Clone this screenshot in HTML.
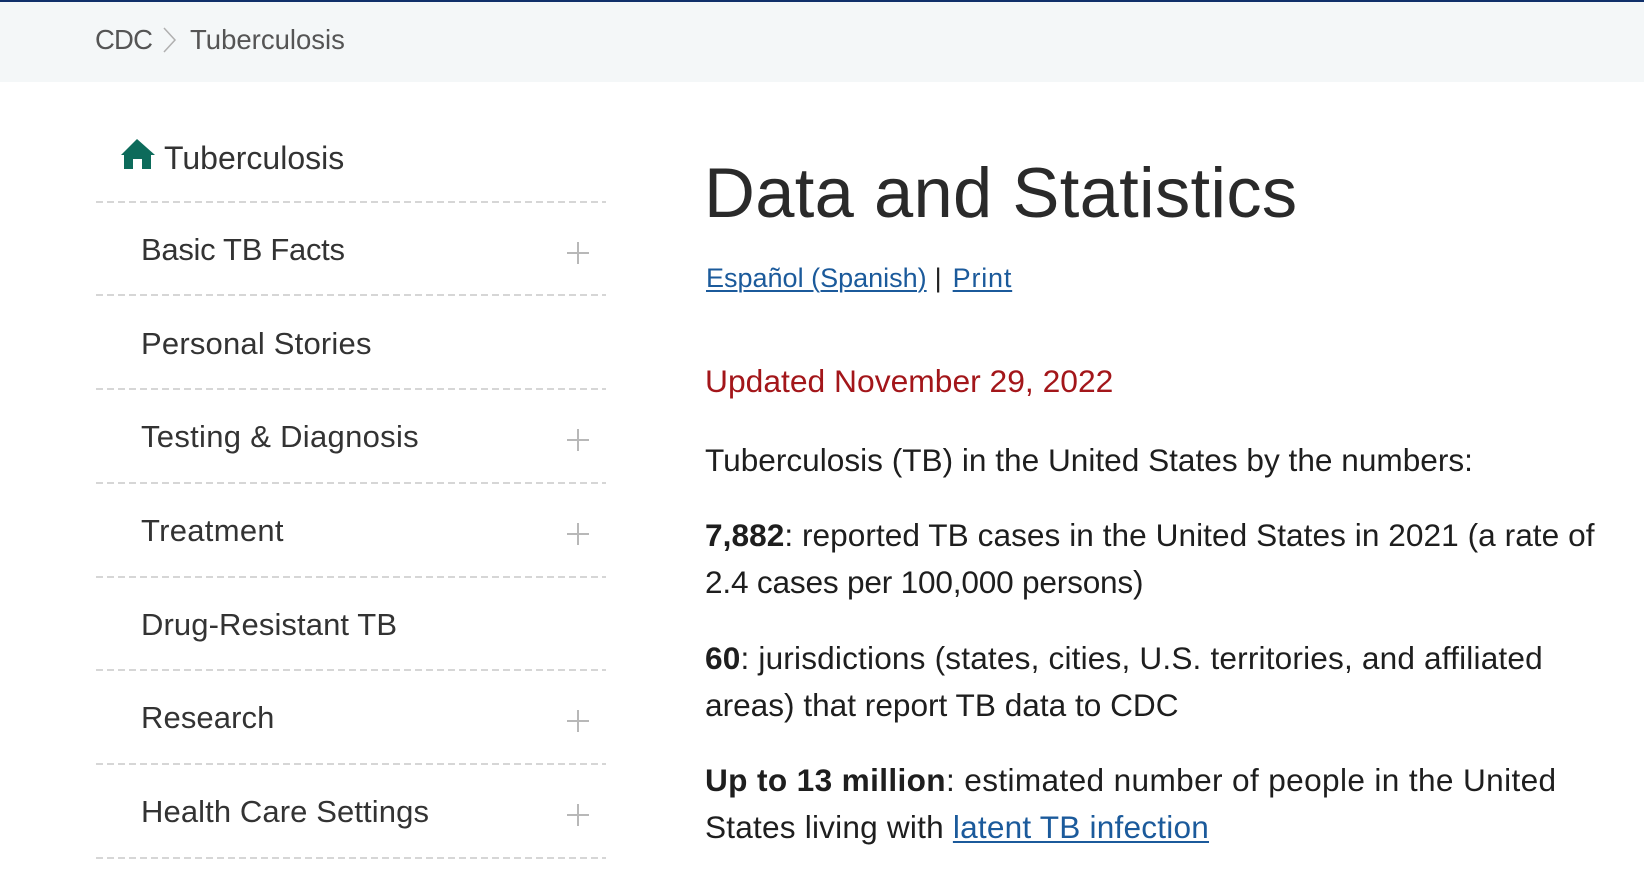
<!DOCTYPE html>
<html>
<head>
<meta charset="utf-8">
<style>
  html, body { margin:0; padding:0; }
  body { width:1644px; height:880px; overflow:hidden; background:#ffffff; position:relative;
         font-family:"Liberation Sans", Arial, sans-serif; }
  .abs { position:absolute; white-space:nowrap; }
  .topbar { position:absolute; left:0; top:0; width:1644px; height:2px; background:#10306a; }
  .crumbbg { position:absolute; left:0; top:2px; width:1644px; height:80px; background:#f4f7f8; }
  .crumb { font-size:27.5px; line-height:36px; color:#555; }
  .side { font-size:31px; line-height:47px; color:#333; }
  .dash { position:absolute; left:96px; width:510px; height:2px;
          background:repeating-linear-gradient(to right, #d6d6d6 0 7px, transparent 7px 11px); }
  .plus { position:absolute; width:22px; height:22px; }
  .plus:before { content:""; position:absolute; left:0; top:10px; width:22px; height:2px; background:#b8b8b8; }
  .plus:after { content:""; position:absolute; left:10px; top:0; width:2px; height:22px; background:#b8b8b8; }
  .title { font-size:70.5px; line-height:80px; color:#2a2a2a; letter-spacing:0.3px; }
  .links { font-size:27px; line-height:36px; color:#222; }
  .links a { color:#1b5a9b; text-decoration:underline; text-decoration-thickness:1.5px; text-underline-offset:3px; }
  .upd { font-size:31.8px; line-height:47px; color:#a3161a; }
  .body { font-size:31.6px; line-height:47px; color:#1e1e1e; }
  .body a { color:#1b5a9b; text-decoration:underline; text-decoration-thickness:1.5px; text-underline-offset:3px; }
</style>
</head>
<body>
  <div class="topbar"></div>
  <div class="crumbbg"></div>

  <!-- breadcrumb -->
  <div class="abs crumb" style="left:95px; top:22px; letter-spacing:-0.8px;">CDC</div>
  <svg class="abs" style="left:160px; top:26px;" width="20" height="28" viewBox="0 0 20 28">
    <polyline points="4,2 15,14 4,26" fill="none" stroke="#b0b0b0" stroke-width="1.5"/>
  </svg>
  <div class="abs crumb" style="left:190px; top:22px;">Tuberculosis</div>

  <!-- sidebar home -->
  <svg class="abs" style="left:120px; top:138px;" width="36" height="32" viewBox="0 0 36 32">
    <polygon points="17,1 35,17 1,17" fill="#0d6b5b"/>
    <polygon points="4,16 31,16 31,31 22,31 22,21 13,21 13,31 4,31" fill="#0d6b5b"/>
  </svg>
  <div class="abs" style="left:164px; top:138px; font-size:32px; line-height:40px; color:#333;">Tuberculosis</div>

  <!-- sidebar items -->
  <div class="dash" style="top:201px;"></div>
  <div class="abs side" style="left:141px; top:226px; letter-spacing:-0.3px;">Basic TB Facts</div>
  <div class="plus" style="left:567px; top:242px;"></div>

  <div class="dash" style="top:294px;"></div>
  <div class="abs side" style="left:141px; top:319.5px; letter-spacing:0.2px;">Personal Stories</div>

  <div class="dash" style="top:388px;"></div>
  <div class="abs side" style="left:141px; top:413px; letter-spacing:0.3px;">Testing &amp; Diagnosis</div>
  <div class="plus" style="left:567px; top:429px;"></div>

  <div class="dash" style="top:482px;"></div>
  <div class="abs side" style="left:141px; top:507px; letter-spacing:0.3px;">Treatment</div>
  <div class="plus" style="left:567px; top:523px;"></div>

  <div class="dash" style="top:576px;"></div>
  <div class="abs side" style="left:141px; top:600.5px; letter-spacing:0.1px;">Drug-Resistant TB</div>

  <div class="dash" style="top:669px;"></div>
  <div class="abs side" style="left:141px; top:694px; letter-spacing:0.1px;">Research</div>
  <div class="plus" style="left:567px; top:710px;"></div>

  <div class="dash" style="top:763px;"></div>
  <div class="abs side" style="left:141px; top:788px; letter-spacing:0.1px;">Health Care Settings</div>
  <div class="plus" style="left:567px; top:804px;"></div>

  <div class="dash" style="top:857px;"></div>

  <!-- main content -->
  <div class="abs title" style="left:704px; top:152.7px;">Data and Statistics</div>
  <div class="abs links" style="left:706px; top:259.6px;"><a>Español (Spanish)</a><span style="margin:0 11px 0 8px;">|</span><a style="letter-spacing:0.8px;">Print</a></div>
  <div class="abs upd" style="left:705px; top:357.5px;">Updated November 29, 2022</div>

  <div class="abs body" style="left:705px; top:436.5px;">Tuberculosis (TB) in the United States by the numbers:</div>

  <div class="abs body" style="left:705px; top:511.5px;"><span style="letter-spacing:0.05px;"><b>7,882</b>: reported TB cases in the United States in 2021 (a rate of</span><br><span style="letter-spacing:-0.2px;">2.4 cases per 100,000 persons)</span></div>

  <div class="abs body" style="left:705px; top:634.5px;"><span style="letter-spacing:0.17px;"><b>60</b>: jurisdictions (states, cities, U.S. territories, and affiliated</span><br><span>areas) that report TB data to CDC</span></div>

  <div class="abs body" style="left:705px; top:756.5px;"><span style="letter-spacing:0.36px;"><b>Up to 13 million</b>: estimated number of people in the United</span><br><span style="letter-spacing:0.2px;">States living with <a>latent TB infection</a></span></div>
</body>
</html>
